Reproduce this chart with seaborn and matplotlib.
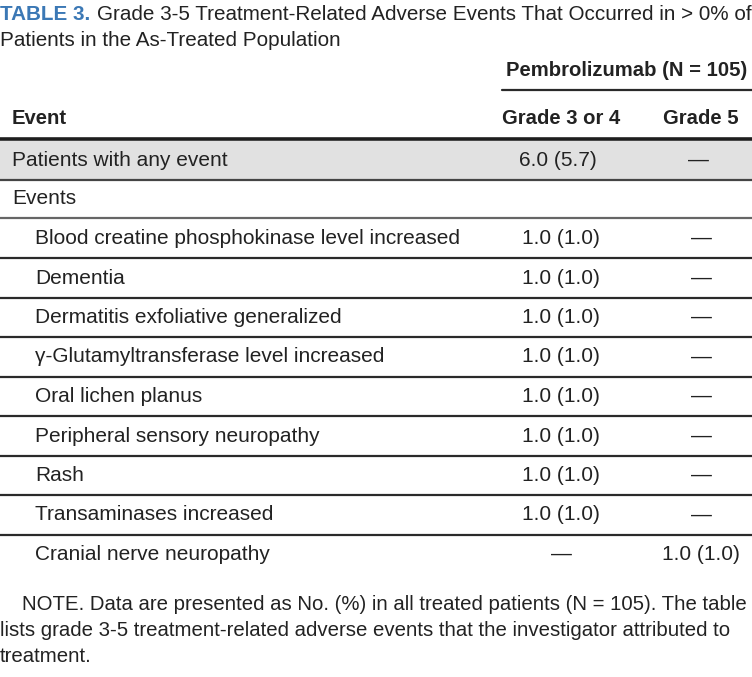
import matplotlib
matplotlib.use("Agg")
import matplotlib.pyplot as plt
import seaborn as sns

# datos de la tabla
events = ["Blood creatine phosphokinase level increased", "Dementia",
          "Dermatitis exfoliative generalized", "γ-Glutamyltransferase level increased",
          "Oral lichen planus", "Peripheral sensory neuropathy", "Rash",
          "Transaminases increased", "Cranial nerve neuropathy"]
grade34 = ["1.0 (1.0)"] * 8 + ["—"]
grade5 = ["—"] * 8 + ["1.0 (1.0)"]
any_event = ["Patients with any event", "6.0 (5.7)", "—"]
col_headers = ["Event", "Grade 3 or 4", "Grade 5"]
group_header = "Pembrolizumab (N = 105)"
title_tag = "TABLE 3."
title_text = "Grade 3-5 Treatment-Related Adverse Events That Occurred in > 0% of"
title_text2 = "Patients in the As-Treated Population"
note_lines = ["NOTE. Data are presented as No. (%) in all treated patients (N = 105). The table",
              "lists grade 3-5 treatment-related adverse events that the investigator attributed to",
              "treatment."]

sns.set_theme(style="white")
plt.rcParams['font.family'] = ['Liberation Sans', 'DejaVu Sans']

fig = plt.figure(figsize=(7.52, 6.77), dpi=100)
ax = fig.add_axes([0, 0, 1, 1])
ax.set_xlim(0, 752)
ax.set_ylim(677, 0)
ax.axis('off')
renderer = fig.canvas.get_renderer()

txt = '#222222'
line_c = '#2a2a2a'


def fit_size(s, width, weight='normal', base=15):
    # ajusta el tamaño de letra para que el texto ocupe "width" pixeles
    t = ax.text(0, 0, s, fontsize=base, fontweight=weight)
    w = t.get_window_extent(renderer).width
    t.remove()
    return base * width / w


fs = fit_size(events[0], 427)
fs_b = fit_size(group_header, 243, 'bold')
fs_t = fit_size(title_text, 655)
fs_n = min(fit_size(note_lines[0], 727), fit_size(note_lines[1], 750))

# titulo
ax.text(0, 14, title_tag, fontsize=fs_t, fontweight='bold', color='#3b78b5', va='center')
ax.text(97, 14, title_text, fontsize=fs_t, color=txt, va='center')
ax.text(0, 40, title_text2, fontsize=fs_t, color=txt, va='center')

# encabezados
ax.text(627, 71, group_header, fontsize=fs_b, fontweight='bold', color=txt, va='center', ha='center')
ax.plot([502, 752], [90, 90], color=line_c, lw=1.6)
ax.text(12, 119, col_headers[0], fontsize=fs_b, fontweight='bold', color=txt, va='center')
ax.text(561, 119, col_headers[1], fontsize=fs_b, fontweight='bold', color=txt, va='center', ha='center')
ax.text(701, 119, col_headers[2], fontsize=fs_b, fontweight='bold', color=txt, va='center', ha='center')
ax.plot([0, 752], [139, 139], color='#1e1e1e', lw=2.6)

# fila gris
ax.axhspan(140.5, 179, color='#e1e1e1', lw=0)
ax.text(12, 160, any_event[0], fontsize=fs, color=txt, va='center')
ax.text(558, 160, any_event[1], fontsize=fs, color=txt, va='center', ha='center')
ax.text(698, 160, any_event[2], fontsize=fs, color=txt, va='center', ha='center')
ax.plot([0, 752], [180, 180], color='#444444', lw=1.6)

ax.text(12, 199, "Events", fontsize=fs, color=txt, va='center')
ax.plot([0, 752], [218, 218], color='#666666', lw=1.6)

y0, dy = 238.5, 39.5
for i, (ev, g34, g5) in enumerate(zip(events, grade34, grade5)):
    y = y0 + i * dy
    ax.text(35, y, ev, fontsize=fs, color=txt, va='center')
    ax.text(561, y, g34, fontsize=fs, color=txt, va='center', ha='center')
    ax.text(701, y, g5, fontsize=fs, color=txt, va='center', ha='center')
    if i < len(events) - 1:
        ax.plot([0, 752], [y + dy / 2, y + dy / 2], color=line_c, lw=1.6)

# nota al pie
ax.text(22, 605, note_lines[0], fontsize=fs_n, color=txt, va='center')
ax.text(0, 631, note_lines[1], fontsize=fs_n, color=txt, va='center')
ax.text(0, 657, note_lines[2], fontsize=fs_n, color=txt, va='center')

fig.savefig('out.png', dpi=100)
